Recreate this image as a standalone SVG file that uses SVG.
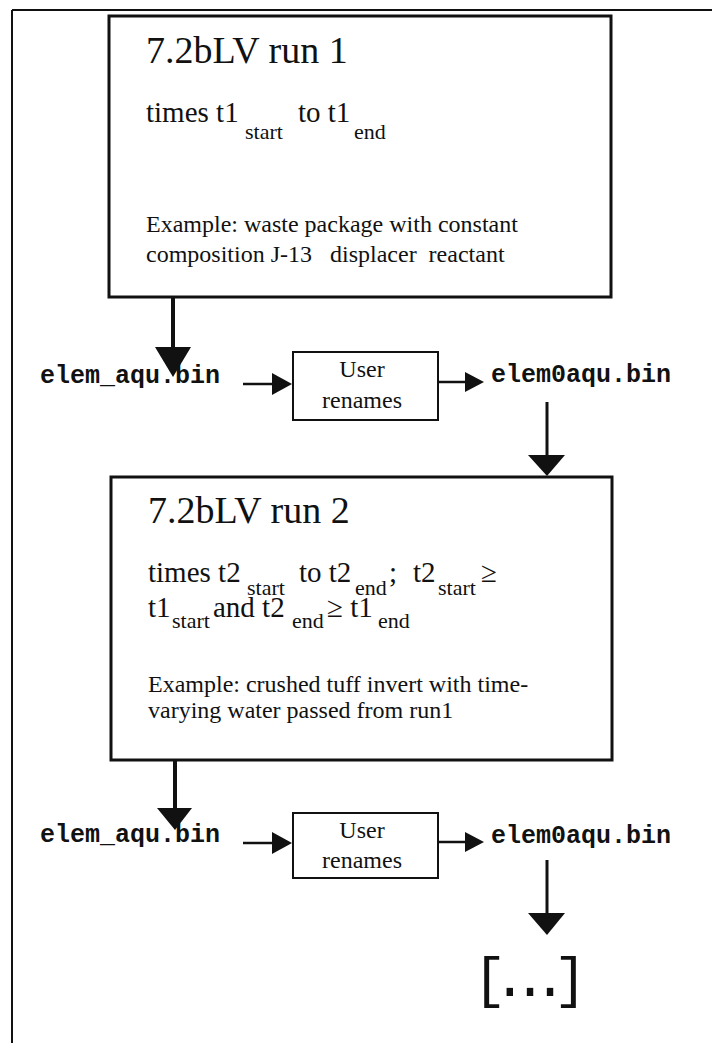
<svg xmlns="http://www.w3.org/2000/svg" width="712" height="1043" viewBox="0 0 712 1043">
<style>
.box{fill:#fff;stroke:#111;stroke-width:3}
.sbox{fill:#fff;stroke:#111;stroke-width:2}
.ser{font-family:"Liberation Serif","Times New Roman",serif;fill:#111}
.mono{font-family:"Liberation Mono","Courier New",monospace;font-weight:bold;fill:#111;font-size:25px}
.title{font-size:38px}
.tm{font-size:29px}
.sub{font-size:22px}
.ex{font-size:24px;white-space:pre}
.usr{font-size:24px;text-anchor:middle}
.ln{stroke:#111;fill:none}
.hd{fill:#111}
</style>
<rect width="712" height="1043" fill="#fff"/>
<g id="frame">
<line class="ln" x1="12" y1="10" x2="712" y2="10" stroke-width="2"/>
<line class="ln" x1="12" y1="10" x2="12" y2="1043" stroke-width="2"/>
</g>
<g id="run1">
<rect class="box" x="109" y="16" width="502" height="281"/>
<text class="ser title" x="146" y="63">7.2bLV run 1</text>
<text class="ser tm" y="122"><tspan x="146">times t1</tspan><tspan class="sub" x="245" y="139">start</tspan><tspan x="298" y="122">to t1</tspan><tspan class="sub" x="354" y="139">end</tspan></text>
<text class="ser ex" x="146" y="232">Example: waste package with constant</text>
<text class="ser ex" x="146" y="262">composition J-13   displacer  reactant</text>
</g>
<g id="file1">
<text class="mono" x="40" y="383">elem_aqu.bin</text>
</g>
<g id="rename1">
<rect class="sbox" x="293" y="352" width="145" height="68"/>
<text class="ser usr" x="362" y="377">User</text>
<text class="ser usr" x="362" y="408">renames</text>
</g>
<g id="file1b">
<text class="mono" x="491" y="382">elem0aqu.bin</text>
</g>
<g id="run2">
<rect class="box" x="111" y="477" width="501" height="283"/>
<text class="ser title" x="148" y="523">7.2bLV run 2</text>
<text class="ser tm" y="582"><tspan x="148">times t2</tspan><tspan class="sub" x="247" y="595">start</tspan><tspan x="299" y="582">to t2</tspan><tspan class="sub" x="355" y="595">end</tspan><tspan x="389" y="582">;</tspan><tspan x="413" y="582">t2</tspan><tspan class="sub" x="438" y="595">start</tspan><tspan x="481" y="582">≥</tspan></text>
<text class="ser tm" y="617"><tspan x="148">t1</tspan><tspan class="sub" x="172" y="628">start</tspan><tspan x="213" y="617">and t2</tspan><tspan class="sub" x="292" y="628">end</tspan><tspan x="327" y="617">≥ t1</tspan><tspan class="sub" x="378" y="628">end</tspan></text>
<text class="ser ex" x="148" y="692">Example: crushed tuff invert with time-</text>
<text class="ser ex" x="148" y="718">varying water passed from run1</text>
</g>
<g id="file2">
<text class="mono" x="40" y="842">elem_aqu.bin</text>
</g>
<g id="rename2">
<rect class="sbox" x="293" y="813" width="145" height="65"/>
<text class="ser usr" x="362" y="838">User</text>
<text class="ser usr" x="362" y="868">renames</text>
</g>
<g id="file2b">
<text class="mono" x="491" y="843">elem0aqu.bin</text>
</g>
<g id="more">
<text style="font-family:'Liberation Mono','Courier New',monospace;font-size:56px;fill:#111;letter-spacing:-13.5px" x="473" y="996">[...]</text>
</g>
<g id="connectors">
<line class="ln" x1="173" y1="297" x2="173" y2="350" stroke-width="4"/>
<polygon class="hd" points="155,347 191,347 173,377"/>
<line class="ln" x1="243" y1="384" x2="275" y2="384" stroke-width="2.5"/>
<polygon class="hd" points="272,373 292,384 272,395"/>
<line class="ln" x1="438" y1="382" x2="467" y2="382" stroke-width="2.5"/>
<polygon class="hd" points="465,372 484,382 465,392"/>
<line class="ln" x1="547" y1="402" x2="547" y2="457" stroke-width="3"/>
<polygon class="hd" points="528,455 565,455 547,476"/>
<line class="ln" x1="175" y1="760" x2="175" y2="810" stroke-width="4"/>
<polygon class="hd" points="157,808 192,808 175,830"/>
<line class="ln" x1="243" y1="843" x2="275" y2="843" stroke-width="2.5"/>
<polygon class="hd" points="272,832 292,843 272,854"/>
<line class="ln" x1="438" y1="842" x2="467" y2="842" stroke-width="2.5"/>
<polygon class="hd" points="465,832 484,842 465,852"/>
<line class="ln" x1="547" y1="860" x2="547" y2="915" stroke-width="3"/>
<polygon class="hd" points="528,913 565,913 547,935"/>
</g>
</svg>
